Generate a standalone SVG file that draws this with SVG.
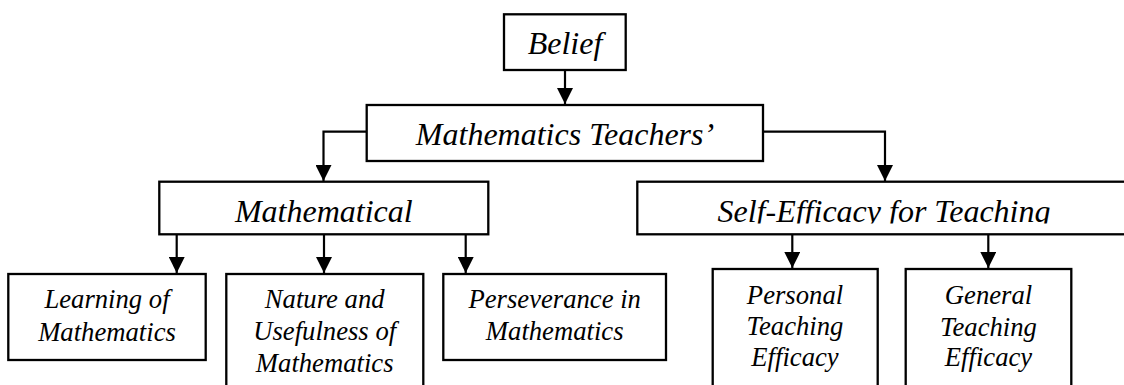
<svg xmlns="http://www.w3.org/2000/svg" width="1124" height="385" viewBox="0 0 1124 385">
<defs>
<marker id="ah" markerUnits="userSpaceOnUse" markerWidth="16" markerHeight="16" viewBox="0 0 16 16" refX="16" refY="8" orient="auto">
<path d="M0,0 L16,8 L0,16 Z" fill="#000"/>
</marker>
<clipPath id="clipSelf"><rect x="637" y="181" width="500" height="42.5"/></clipPath>
</defs>
<rect width="1124" height="385" fill="#fff"/>
<g id="connectors" fill="none" stroke="#000" stroke-width="2.2">
<path d="M565,70 V104" marker-end="url(#ah)"/>
<path d="M367,131.7 H323.5 V181" marker-end="url(#ah)"/>
<path d="M763,131.7 H885 V181" marker-end="url(#ah)"/>
<path d="M176.7,234.3 V273" marker-end="url(#ah)"/>
<path d="M324,234.3 V273" marker-end="url(#ah)"/>
<path d="M465.7,234.3 V273" marker-end="url(#ah)"/>
<path d="M792.3,234.3 V268" marker-end="url(#ah)"/>
<path d="M988.3,234.3 V268" marker-end="url(#ah)"/>
</g>
<g font-family="Liberation Serif, Times New Roman, serif" font-style="italic" font-size="32" text-anchor="middle" fill="#000">
<g id="belief">
<rect x="504" y="14.3" width="121.7" height="55.7" fill="#fff" stroke="#000" stroke-width="2.3"/>
<text x="565" y="54">Belief</text>
</g>
<g id="teachers">
<rect x="366.7" y="105" width="396.3" height="56" fill="#fff" stroke="#000" stroke-width="2.3"/>
<text x="565" y="145">Mathematics Teachers’</text>
</g>
<g id="mathematical">
<rect x="159.3" y="181.7" width="329" height="52.6" fill="#fff" stroke="#000" stroke-width="2.3"/>
<text x="323.8" y="221.7">Mathematical</text>
</g>
<g id="selfefficacy">
<rect x="637.3" y="181.7" width="494" height="52.6" fill="#fff" stroke="#000" stroke-width="2.3"/>
<text x="884" y="221.7" clip-path="url(#clipSelf)">Self-Efficacy for Teaching</text>
</g>
<g id="learning" font-size="26.67">
<rect x="8.3" y="274" width="197.4" height="86" fill="#fff" stroke="#000" stroke-width="2.3"/>
<text x="107" y="308">Learning of</text>
<text x="107" y="340.7">Mathematics</text>
</g>
<g id="nature" font-size="26.67">
<rect x="226.3" y="274" width="197" height="120" fill="#fff" stroke="#000" stroke-width="2.3"/>
<text x="324.7" y="308">Nature and</text>
<text x="324.7" y="340">Usefulness of</text>
<text x="324.7" y="371.5">Mathematics</text>
</g>
<g id="perseverance" font-size="26.67">
<rect x="443.3" y="274" width="222.7" height="86" fill="#fff" stroke="#000" stroke-width="2.3"/>
<text x="554.7" y="308">Perseverance in</text>
<text x="554.7" y="340.3">Mathematics</text>
</g>
<g id="personal" font-size="26.67">
<rect x="712.7" y="269" width="165" height="125" fill="#fff" stroke="#000" stroke-width="2.3"/>
<text x="795" y="304">Personal</text>
<text x="795" y="335">Teaching</text>
<text x="795" y="366">Efficacy</text>
</g>
<g id="general" font-size="26.67">
<rect x="905.7" y="269" width="165.6" height="125" fill="#fff" stroke="#000" stroke-width="2.3"/>
<text x="988.5" y="303.5">General</text>
<text x="988.5" y="335.5">Teaching</text>
<text x="988.5" y="365.5">Efficacy</text>
</g>
</g>
</svg>
